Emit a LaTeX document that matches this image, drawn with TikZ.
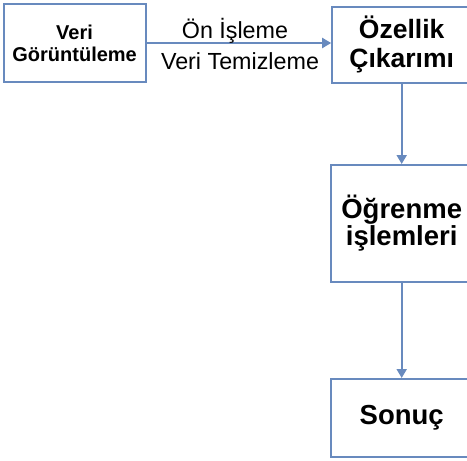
\documentclass[tikz,border=0pt]{standalone}
\usepackage{fontspec}
\setmainfont{Liberation Sans}
\usetikzlibrary{arrows.meta}
\definecolor{edgeblue}{RGB}{104,138,190}
\tikzset{
  box/.style={draw=edgeblue, line width=2pt, fill=white, align=center, inner sep=0pt},
  bigtxt/.style={font=\fontsize{27.5}{29}\selectfont\bfseries},
  conn/.style={draw=edgeblue, line width=2pt, -{Triangle[length=9pt,width=10pt]}},
  lbl/.style={font=\fontsize{23.3}{26}\selectfont, inner sep=0pt}
}
\begin{document}
\begin{tikzpicture}[x=1pt,y=-1pt]
\useasboundingbox (0,0) rectangle (467,461);
\node[box, minimum width=142pt, minimum height=78pt, font=\fontsize{20}{23}\selectfont\bfseries] (b1) at (74.6,43) {Veri\\[-1pt]Görüntüleme};
\node[box, font=\fontsize{26.5}{28}\selectfont\bfseries, minimum width=139pt, minimum height=76pt] (b2) at (401.7,44.5) {Özellik\\[1pt]Çıkarımı};
\node[box, bigtxt, minimum width=141pt, minimum height=117pt] (b3) at (401.7,223.5) {Öğrenme\\[-2pt]işlemleri};
\node[box, bigtxt, minimum width=141pt, minimum height=78pt] (b4) at (401.7,418) {Sonuç};
\draw[conn] (b1.east) -- (b1.east -| b2.west);
\draw[conn] (b2.south) -- (b3.north);
\draw[conn] (b3.south) -- (b4.north);
\node[lbl] (l1) at (235,31) {Ön İşleme};
\node[lbl] (l2) at (240,61) {Veri Temizleme};
\end{tikzpicture}
\end{document}
